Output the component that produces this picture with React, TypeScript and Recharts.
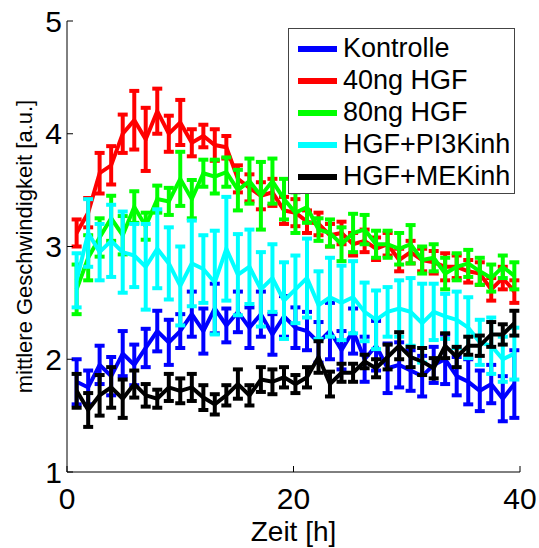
import React from 'react';
import { ComposedChart, Line, XAxis, YAxis, ErrorBar, Legend } from 'recharts';

const times = [0.85, 1.87, 2.88, 3.9, 4.92, 5.94, 6.95, 7.97, 8.99, 10.0, 11.02, 12.04, 13.05, 14.07, 15.09, 16.11, 17.12, 18.14, 19.16, 20.17, 21.19, 22.21, 23.22, 24.24, 25.26, 26.28, 27.29, 28.31, 29.33, 30.34, 31.36, 32.38, 33.39, 34.41, 35.43, 36.45, 37.46, 38.48, 39.5];

const kontrolle = [1.8, 1.75, 1.95, 1.85, 2.05, 1.95, 2.1, 2.25, 2.15, 2.25, 2.4, 2.25, 2.45, 2.3, 2.42, 2.28, 2.4, 2.22, 2.38, 2.28, 2.25, 2.15, 2.25, 2.08, 2.25, 2.0, 2.12, 1.92, 1.95, 1.9, 1.85, 1.95, 2.0, 1.85, 1.8, 1.72, 1.78, 1.65, 1.78];
const kontrolleErr = [0.2, 0.15, 0.17, 0.17, 0.2, 0.18, 0.17, 0.18, 0.2, 0.15, 0.2, 0.2, 0.22, 0.15, 0.18, 0.18, 0.2, 0.18, 0.18, 0.18, 0.17, 0.18, 0.25, 0.17, 0.2, 0.2, 0.22, 0.22, 0.2, 0.18, 0.18, 0.16, 0.22, 0.17, 0.2, 0.18, 0.17, 0.2, 0.3];

const hgf40 = [3.12, 3.3, 3.65, 3.72, 4.0, 4.12, 3.95, 4.2, 4.0, 4.1, 3.92, 3.98, 3.9, 3.88, 3.6, 3.52, 3.45, 3.48, 3.32, 3.3, 3.22, 3.2, 3.1, 3.12, 3.02, 3.05, 2.98, 3.02, 2.88, 2.95, 2.88, 2.86, 2.82, 2.82, 2.78, 2.76, 2.62, 2.72, 2.6];
const hgf40Err = [0.12, 0.13, 0.18, 0.17, 0.17, 0.26, 0.28, 0.2, 0.16, 0.2, 0.12, 0.1, 0.14, 0.1, 0.12, 0.12, 0.12, 0.12, 0.12, 0.12, 0.1, 0.1, 0.1, 0.1, 0.1, 0.1, 0.1, 0.1, 0.1, 0.1, 0.1, 0.1, 0.12, 0.1, 0.1, 0.1, 0.1, 0.1, 0.1];

const hgf80 = [2.62, 2.9, 3.08, 3.25, 3.1, 3.35, 3.18, 3.42, 3.4, 3.6, 3.42, 3.65, 3.62, 3.66, 3.5, 3.58, 3.45, 3.58, 3.42, 3.3, 3.35, 3.15, 3.12, 3.02, 3.12, 3.15, 3.02, 3.02, 2.98, 3.02, 2.88, 2.9, 2.76, 2.82, 2.85, 2.78, 2.72, 2.82, 2.74];
const hgf80Err = [0.22, 0.2, 0.17, 0.2, 0.17, 0.14, 0.12, 0.12, 0.12, 0.24, 0.17, 0.12, 0.15, 0.13, 0.18, 0.2, 0.3, 0.2, 0.18, 0.18, 0.14, 0.1, 0.12, 0.15, 0.17, 0.13, 0.12, 0.12, 0.14, 0.17, 0.12, 0.12, 0.14, 0.12, 0.12, 0.12, 0.12, 0.1, 0.12];

const pi3k = [2.7, 3.12, 2.95, 3.05, 2.95, 2.92, 2.82, 2.98, 2.85, 2.65, 2.85, 2.8, 2.68, 2.98, 2.75, 2.82, 2.62, 2.72, 2.52, 2.62, 2.72, 2.48, 2.55, 2.5, 2.55, 2.42, 2.35, 2.42, 2.45, 2.42, 2.32, 2.42, 2.38, 2.35, 2.28, 2.15, 2.12, 2.0, 2.05];
const pi3kErr = [0.24, 0.3, 0.25, 0.32, 0.36, 0.28, 0.38, 0.35, 0.32, 0.35, 0.38, 0.3, 0.46, 0.46, 0.36, 0.33, 0.33, 0.3, 0.34, 0.3, 0.35, 0.3, 0.35, 0.33, 0.32, 0.26, 0.26, 0.22, 0.25, 0.3, 0.35, 0.25, 0.2, 0.25, 0.27, 0.2, 0.25, 0.2, 0.23];

const mek = [1.72, 1.55, 1.68, 1.75, 1.65, 1.78, 1.68, 1.65, 1.75, 1.72, 1.75, 1.66, 1.6, 1.68, 1.78, 1.68, 1.82, 1.8, 1.84, 1.78, 1.84, 2.02, 1.78, 1.88, 1.88, 1.98, 1.92, 2.02, 2.12, 2.02, 1.98, 1.92, 2.12, 2.02, 2.12, 2.12, 2.22, 2.22, 2.32];
const mekErr = [0.15, 0.15, 0.18, 0.18, 0.17, 0.12, 0.1, 0.08, 0.12, 0.11, 0.12, 0.11, 0.09, 0.09, 0.13, 0.09, 0.11, 0.11, 0.09, 0.08, 0.09, 0.14, 0.11, 0.08, 0.08, 0.06, 0.08, 0.11, 0.12, 0.09, 0.12, 0.09, 0.11, 0.09, 0.08, 0.09, 0.11, 0.09, 0.11];

const seriesNames = ['Kontrolle', '40ng HGF', '80ng HGF', 'HGF+PI3Kinh', 'HGF+MEKinh'];
const seriesColors = ['#0000ff', '#ff0000', '#00ff00', '#00ffff', '#000000'];
const xTicks = [0, 20, 40];
const yTicks = [1, 2, 3, 4, 5];
const xLabel = 'Zeit [h]';
const yLabel = 'mittlere Geschwindigkeit [a.u.]';

const FONT = '"Liberation Sans", Arial, Helvetica, sans-serif';

const data = times.map((t, i) => ({
  t,
  s0: kontrolle[i], e0: kontrolleErr[i],
  s1: hgf40[i], e1: hgf40Err[i],
  s2: hgf80[i], e2: hgf80Err[i],
  s3: pi3k[i], e3: pi3kErr[i],
  s4: mek[i], e4: mekErr[i],
}));

const renderLegend = (props: any) => {
  const payload = [...(props.payload || [])].sort(
    (a: any, b: any) => seriesNames.indexOf(a.value) - seriesNames.indexOf(b.value)
  );
  return (
    <div
      style={{
        width: 227,
        height: 166,
        boxSizing: 'border-box',
        border: '1px solid #444',
        background: '#fff',
        paddingTop: 4,
      }}
    >
      {payload.map((p: any) => (
        <div key={p.value} style={{ display: 'flex', alignItems: 'center', height: 31.9 }}>
          <div style={{ width: 39, height: 6, background: p.color, marginLeft: 9, marginRight: 6 }} />
          <span style={{ fontSize: 27, fontFamily: FONT, color: '#000', lineHeight: '31px', whiteSpace: 'nowrap' }}>
            {p.value}
          </span>
        </div>
      ))}
    </div>
  );
};

const renderYLabel = (props: any) => {
  const vb = props.viewBox || { x: 0, y: 21, width: 67, height: 451 };
  const cx = vb.x + 24;
  const cy = vb.y + vb.height / 2;
  return (
    <text
      x={cx}
      y={cy}
      transform={`rotate(-90 ${cx} ${cy})`}
      textAnchor="middle"
      dominantBaseline="central"
      fontSize={22}
      fontFamily={FONT}
      fill="#000"
    >
      {yLabel}
    </text>
  );
};

export default function App() {
  return (
    <div style={{ position: 'absolute', left: 0, top: 0, background: '#fff' }}>
      <ComposedChart
        width={539}
        height={548}
        data={data}
        margin={{ top: 21, right: 19, bottom: 36, left: 0 }}
        style={{ fontFamily: FONT }}
      >
        <XAxis
          xAxisId="b"
          type="number"
          dataKey="t"
          domain={[0, 40]}
          ticks={xTicks}
          allowDataOverflow
          height={40}
          tickSize={-6}
          tickMargin={22}
          stroke="#000"
          tick={{ fill: '#000', fontSize: 30, fontFamily: FONT }}
          label={{ value: xLabel, position: 'bottom', offset: 9, fontSize: 28, fill: '#000', fontFamily: FONT }}
        />
        <XAxis
          xAxisId="top"
          orientation="top"
          type="number"
          dataKey="t"
          domain={[0, 40]}
          ticks={xTicks}
          allowDataOverflow
          height={0}
          tickSize={-6}
          tick={false}
          stroke="#000"
        />
        <YAxis
          yAxisId="l"
          type="number"
          domain={[1, 5]}
          ticks={yTicks}
          allowDataOverflow
          width={67}
          tickSize={-6}
          tickMargin={11}
          stroke="#000"
          tick={{ fill: '#000', fontSize: 30, fontFamily: FONT }}
          label={renderYLabel}
        />
        <YAxis
          yAxisId="r"
          orientation="right"
          type="number"
          domain={[1, 5]}
          ticks={yTicks}
          allowDataOverflow
          width={0}
          tickSize={-6}
          tick={false}
          stroke="#000"
        />
        <Legend
          layout="vertical"
          align="center"
          verticalAlign="middle"
          content={renderLegend}
          wrapperStyle={{ left: 288, top: 28, width: 227, height: 166 }}
        />
        {seriesNames.map((name, i) => (
          <Line
            key={name}
            xAxisId="b"
            yAxisId="l"
            type="linear"
            dataKey={`s${i}`}
            name={name}
            stroke={seriesColors[i]}
            strokeWidth={4}
            dot={false}
            activeDot={false}
            isAnimationActive={false}
          >
            <ErrorBar
              dataKey={`e${i}`}
              direction="y"
              width={5}
              strokeWidth={4}
              stroke={seriesColors[i]}
              isAnimationActive={false}
            />
          </Line>
        ))}
      </ComposedChart>
    </div>
  );
}
